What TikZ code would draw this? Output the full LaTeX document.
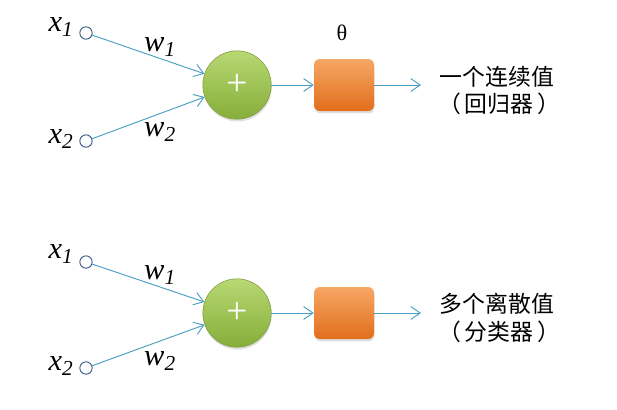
\documentclass[tikz,border=0pt]{standalone}
\usepackage{fontspec}
\setmainfont{Liberation Serif}
\newfontfamily\cjkfont{Noto Sans CJK SC}
\usetikzlibrary{arrows.meta,shadows}

\definecolor{linkblue}{HTML}{4A9EC2}
\definecolor{inblue}{HTML}{3B5A86}
\definecolor{sumtop}{HTML}{B8D873}
\definecolor{sumbot}{HTML}{86AE3A}
\definecolor{sumedge}{HTML}{7E9E3E}
\definecolor{acttop}{HTML}{F6A765}
\definecolor{actbot}{HTML}{E26E1C}

\tikzset{
  input/.style={circle, draw=inblue, line width=0.8pt, fill=white, inner sep=0pt, minimum size=0.37cm},
  sumnode/.style={circle, draw=sumedge, line width=0.5pt, top color=sumtop, bottom color=sumbot,
    minimum size=2.05cm, inner sep=0pt, text=white, font=\fontsize{32}{32}\selectfont,
    drop shadow={opacity=0.25, shadow xshift=0.5pt, shadow yshift=-2pt}},
  actnode/.style={rectangle, rounded corners=5pt, top color=acttop, bottom color=actbot,
    minimum width=1.8cm, minimum height=1.56cm, inner sep=0pt,
    drop shadow={opacity=0.25, shadow xshift=0.5pt, shadow yshift=-2pt}},
  link/.style={draw=linkblue, line width=0.8pt, ->},
  varlabel/.style={font=\fontsize{26}{26}\selectfont\itshape},
  outtext/.style={font=\cjkfont\fontsize{19.5}{20}\selectfont}
}

\begin{document}
\begin{tikzpicture}[x=0.03cm, y=-0.03cm, >={Straight Barb[length=8pt, width=11pt]}]
  \useasboundingbox (0,0) rectangle (617,409);

  % regression
  \node[input] (xa1) at (86,33) {};
  \node[input] (xa2) at (86,141) {};
  \node[varlabel] (lxa1) at (61,27) {x\textsubscript{1}};
  \node[varlabel] (lxa2) at (61,139) {x\textsubscript{2}};
  \node[sumnode] (suma) at (237,85) {+};
  \node[actnode] (acta) at (344,85) {};
  \node[font=\fontsize{19}{19}\selectfont] (theta) at (342,33) {θ};
  \coordinate (outa) at (421,85);
  \draw[link] (xa1) -- (suma);
  \draw[link] (xa2) -- (suma);
  \draw[link] (suma) -- (acta);
  \draw[link] (acta) -- (outa);
  \node[varlabel] (wa1) at (160,47) {w\textsubscript{1}};
  \node[varlabel] (wa2) at (160,132) {w\textsubscript{2}};
  \node[outtext] (ta1) at (497,77) {一个连续值};
  \node[outtext] (ta2) at (499,104) {（\,回归器\,）};

  % classification
  \node[input] (xb1) at (86,262) {};
  \node[input] (xb2) at (86,368) {};
  \node[varlabel] (lxb1) at (61,254) {x\textsubscript{1}};
  \node[varlabel] (lxb2) at (61,366) {x\textsubscript{2}};
  \node[sumnode] (sumb) at (237,313) {+};
  \node[actnode] (actb) at (344,313) {};
  \coordinate (outb) at (421,313);
  \draw[link] (xb1) -- (sumb);
  \draw[link] (xb2) -- (sumb);
  \draw[link] (sumb) -- (actb);
  \draw[link] (actb) -- (outb);
  \node[varlabel] (wb1) at (160,275) {w\textsubscript{1}};
  \node[varlabel] (wb2) at (160,361) {w\textsubscript{2}};
  \node[outtext] (tb1) at (497,304) {多个离散值};
  \node[outtext] (tb2) at (499,332) {（\,分类器\,）};
\end{tikzpicture}
\end{document}
